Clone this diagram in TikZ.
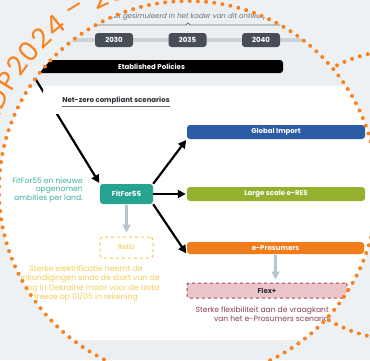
\documentclass[tikz,border=0pt]{standalone}
\usepackage{fontspec}
\setmainfont{Poppins}
\usetikzlibrary{arrows.meta}

\definecolor{bggray}{HTML}{EEF1F4}
\definecolor{bandgray}{HTML}{ECEFF2}
\definecolor{trackgray}{HTML}{CDD2D7}
\definecolor{rulegray}{HTML}{6E747B}
\definecolor{captiongray}{HTML}{6A7078}
\definecolor{pilldark}{HTML}{474E57}
\definecolor{inkdark}{HTML}{2B2F35}
\definecolor{dotorange}{HTML}{F7821F}
\definecolor{giblue}{HTML}{2D5CA6}
\definecolor{lsegreen}{HTML}{93B12F}
\definecolor{eproorange}{HTML}{F07C1B}
\definecolor{fitteal}{HTML}{27A392}
\definecolor{noteteal}{HTML}{3BB3A3}
\definecolor{reeuyellow}{HTML}{F2C744}
\definecolor{notegold}{HTML}{F5CD58}
\definecolor{flexpink}{HTML}{ECC5CB}
\definecolor{flexred}{HTML}{A3435E}
\definecolor{noteplum}{HTML}{8A3D5C}
\definecolor{arrowgray}{HTML}{B9C4CD}

\begin{document}
\begin{tikzpicture}[x=1pt,y=1pt,>={Triangle[length=8pt,width=8pt]},
  bar/.style={rounded corners=3pt,text=white,inner sep=0pt,
    font=\fontsize{7}{8}\selectfont\bfseries},
  pill/.style={fill=pilldark,rounded corners=3pt,text=white,inner sep=0pt,
    minimum width=38pt,minimum height=14pt,font=\fontsize{7}{8}\selectfont\bfseries},
  flow/.style={->,line width=2.2pt,black},
  drop/.style={->,line width=2.6pt,arrowgray},
  dots/.style={draw=dotorange,line width=4pt,line cap=round,
    dash pattern=on 0pt off 8.2pt},
  ringtitle/.style={inner sep=0pt,text=dotorange,font=\fontsize{27}{27}\selectfont},
  note/.style={inner sep=0pt,font=\fontsize{7.6}{9}\selectfont}]
  \useasboundingbox (0,0) rectangle (370,-360);
  \fill[bggray] (0,0) rectangle (370,-360);
  \coordinate (hub) at (188,-190);
  % second ring, right
  \draw[dots] (402,-195) circle (145);
  % slide seen through the ring
  \begin{scope}
    \clip (hub) circle (189);
    \fill[bandgray] (0,0) rectangle (370,-360);
    \fill[white] (0,-86) rectangle (370,-340);
    \node[anchor=west,inner sep=0pt,text=captiongray,
      font=\fontsize{7}{8}\selectfont\itshape] (simnote) at (109,-17)
      {Het gesimuleerd in het kader van dit ontwerp};
    \draw[rulegray,line width=0.8pt] (95,-25) -- (186,-25) -- (188,-23) -- (190,-25) -- (282,-25);
    \draw[trackgray,line width=4pt] (0,-40) -- (370,-40);
    \node[pill] (y2030) at (114,-40) {2030};
    \node[pill] (y2035) at (187.5,-40) {2035};
    \node[pill] (y2040) at (261,-40) {2040};
    \node[bar,fill=black,minimum width=263pt,minimum height=13pt] (etab) at (151.5,-66.5)
      {Etablished Policies};
    % scenario boxes
    \node[bar,fill=fitteal,minimum width=53pt,minimum height=20pt] (fit) at (126.5,-194) {FitFor55};
    \node[bar,fill=giblue,minimum width=178pt,minimum height=14pt] (gi) at (276,-132) {Global Import};
    \node[bar,fill=lsegreen,minimum width=178pt,minimum height=14pt] (lse) at (276,-194) {Large scale e-RES};
    \node[bar,fill=eproorange,minimum width=177pt,minimum height=12pt] (epro) at (275.5,-248) {e-Prosumers};
    \node[draw=reeuyellow,dashed,line width=1pt,fill=white,rounded corners=3pt,
      minimum width=53pt,minimum height=21pt,inner sep=0pt,text=reeuyellow,
      font=\fontsize{7}{8}\selectfont] (reeu) at (126.5,-247.5) {ReEU};
    \node[draw=flexred,dashed,line width=1pt,fill=flexpink,rounded corners=2pt,
      minimum width=160pt,minimum height=15pt,inner sep=0pt,text=inkdark,
      font=\fontsize{7}{8}\selectfont\bfseries] (flex) at (267,-290.5) {Flex+};
    % arrows
    \coordinate (entry) at (30,-70);
    \draw[flow,shorten >=1pt] (entry) -- (fit.north west);
    \draw[flow,shorten >=1pt] (fit.north east) -- (gi.south west);
    \draw[flow,shorten >=1pt] (fit.east) -- (lse.west);
    \draw[flow,shorten >=1pt] (fit.south east) -- (epro.south west);
    \draw[drop,shorten <=1pt,shorten >=4pt] (fit.south) -- (reeu.north);
    \draw[drop,shorten <=1pt,shorten >=3pt] (epro.south) -- (epro.south |- flex.north);
    \node[fill=white,inner xsep=19pt,inner ysep=7pt,
      font=\fontsize{7}{8}\selectfont\bfseries] (netzero) at (116,-102)
      {{\color{captiongray}\underline{{\color{inkdark}Net-zero compliant scenarios}}}};
    % notes
    \node[note,anchor=east,align=right,text=noteteal,font=\fontsize{7.6}{8.5}\selectfont]
      (fitnote) at (83,-190) {FitFor55 en nieuwe\\opgenomen\\ambities per land.};
    \node[note,align=center,text=notegold,font=\fontsize{7.8}{9.6}\selectfont]
      (reeunote) at (86,-283.5) {Sterke elektrificatie neemt de\\aankondigingen sinds de start van de\\oorlog in Oekraine maar voor de data\\freeze op 01/05 in rekening};
    \node[note,anchor=east,align=right,text=noteplum] (flexnote) at (329,-314.5)
      {Sterke flexibiliteit aan de vraagkant\\van het e-Prosumers scenario};
  \end{scope}
  % main ring and its title
  \draw[dots] (hub) circle (189);
  \foreach \ch/\ang [count=\i] in {T/169.7,Y/165.2,N/160,D/154.5,P/149,
      2/143.9,0/138.9,2/133.9,4/128.9,–/121.8,2/114.8,0/109.8,4/104.8,0/99.8}
    \node[ringtitle,rotate=\ang-90] (title\i) at ([shift={(\ang:211)}]hub) {\ch};
\end{tikzpicture}
\end{document}
